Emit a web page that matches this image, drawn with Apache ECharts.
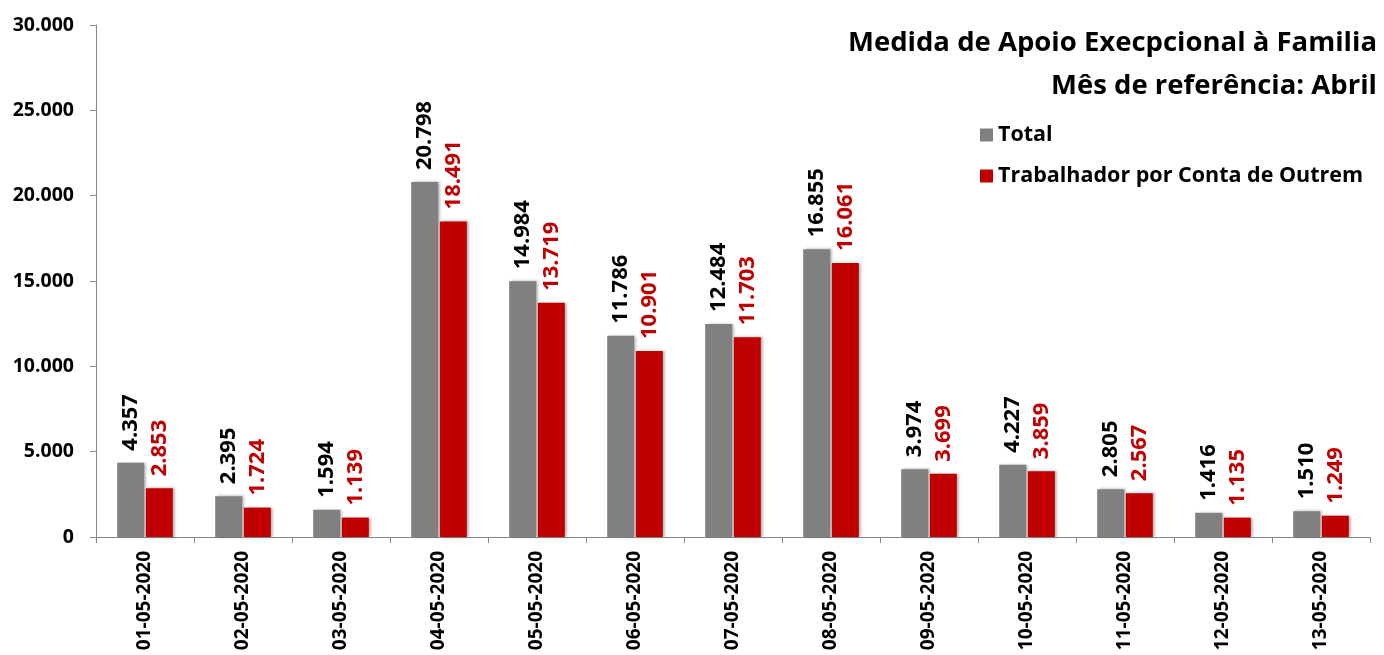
<!DOCTYPE html>
<html>
<head>
<meta charset="utf-8">
<script src="https://cdn.jsdelivr.net/npm/echarts@6/dist/echarts.min.js"></script>
<style>
  html, body { margin: 0; padding: 0; background: #fff; }
  #chart { width: 1384px; height: 655px; }
</style>
</head>
<body>
<div id="chart"></div>
<script>
const dates = ['01-05-2020', '02-05-2020', '03-05-2020', '04-05-2020', '05-05-2020', '06-05-2020', '07-05-2020',
  '08-05-2020', '09-05-2020', '10-05-2020', '11-05-2020', '12-05-2020', '13-05-2020']
const total = [4357, 2395, 1594, 20798, 14984, 11786, 12484, 16855, 3974, 4227, 2805, 1416, 1510]
const outrem = [2853, 1724, 1139, 18491, 13719, 10901, 11703, 16061, 3699, 3859, 2567, 1135, 1249]
const seriesNames = ['Total', 'Trabalhador por Conta de Outrem']
const titleLines = ['Medida de Apoio Execpcional à Familia', 'Mês de referência: Abril']

const font = '"Open Sans", "Noto Sans", sans-serif'
// 30000 -> 30.000
const fmt = v => String(v).replace(/\B(?=(\d{3})+(?!\d))/g, '.')

const barShadow = {
  shadowColor: 'rgba(0,0,0,0.35)',
  shadowBlur: 3,
  shadowOffsetX: 2,
  shadowOffsetY: 0
}

function makeSeries(name, data, color, labelColor) {
  return {
    name: name,
    type: 'bar',
    data: data,
    barWidth: 27,
    barGap: '6%',
    itemStyle: Object.assign({ color: color }, barShadow),
    label: {
      show: true,
      position: 'top',
      rotate: 90,
      align: 'left',
      verticalAlign: 'middle',
      distance: 12,
      color: labelColor,
      fontFamily: font,
      fontWeight: 'bold',
      fontSize: 22,
      formatter: p => fmt(p.value)
    }
  }
}

const titleStyle = {
  fontFamily: font,
  fontWeight: 'bold',
  fontSize: 27.5,
  color: '#000'
}

const chart = echarts.init(document.getElementById('chart'))
chart.setOption({
  animation: false,
  title: [
    { text: titleLines[0], right: 2, top: 24, textStyle: titleStyle },
    { text: titleLines[1], right: 2, top: 67, textStyle: titleStyle }
  ],
  legend: {
    orient: 'vertical',
    left: 975,
    top: 119,
    itemWidth: 13,
    itemHeight: 13,
    itemGap: 19,
    icon: 'rect',
    data: seriesNames,
    textStyle: {
      fontFamily: font,
      fontWeight: 'bold',
      fontSize: 21.5,
      color: '#000'
    }
  },
  grid: {
    left: 96,
    right: 14,
    top: 25,
    bottom: 118
  },
  xAxis: {
    type: 'category',
    data: dates,
    axisLine: { lineStyle: { color: '#888', width: 1 } },
    axisTick: { show: true, alignWithLabel: false, length: 6, lineStyle: { color: '#888' } },
    axisLabel: {
      rotate: 90,
      interval: 0,
      margin: 14,
      color: '#000',
      fontFamily: font,
      fontWeight: 'bold',
      fontSize: 19
    }
  },
  yAxis: {
    type: 'value',
    min: 0,
    max: 30000,
    interval: 5000,
    splitLine: { show: false },
    axisLine: { show: true, lineStyle: { color: '#888', width: 1 } },
    axisTick: { show: true, length: 6, lineStyle: { color: '#888' } },
    axisLabel: {
      margin: 22,
      color: '#000',
      fontFamily: font,
      fontWeight: 'bold',
      fontSize: 19.5,
      formatter: v => fmt(v)
    }
  },
  series: [
    makeSeries(seriesNames[0], total, '#808080', '#000'),
    makeSeries(seriesNames[1], outrem, '#C00000', '#C00000')
  ]
})
</script>
</body>
</html>
